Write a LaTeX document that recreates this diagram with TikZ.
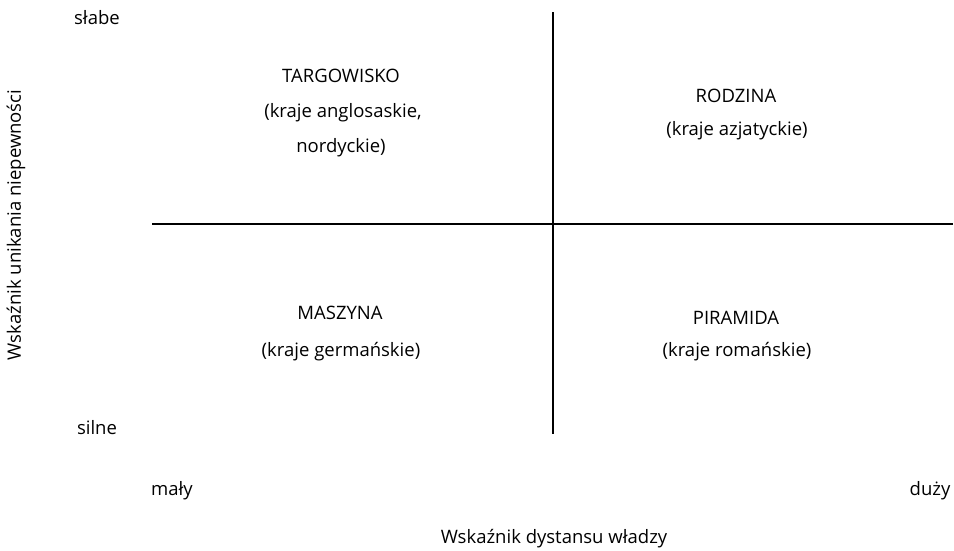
\documentclass[tikz,border=0pt]{standalone}
\usepackage{fontspec}
\setmainfont{Open Sans}
\begin{document}
\begin{tikzpicture}[x=1pt,y=-1pt,
  lbl/.style={font=\fontsize{18.5}{22}\selectfont, inner sep=0pt},
  axisline/.style={line width=1.3pt, black}]
\useasboundingbox (0,0) rectangle (954,550);
\coordinate (vtop) at (553,12);
\coordinate (vbot) at (553,434);
\coordinate (hl) at (152,224);
\coordinate (hr) at (953,224);
\draw[axisline] (vtop) -- (vbot);
\draw[axisline] (hl) -- (hr);
\node[lbl] (slabe) at (97,18) {słabe};
\node[lbl] (silne) at (97,428) {silne};
\node[lbl] (maly) at (172,491) {mały};
\node[lbl] (duzy) at (930,491) {duży};
\node[lbl] (xlab) at (554,539) {Wskaźnik dystansu władzy};
\node[lbl, rotate=90] (ylab) at (16,225) {Wskaźnik unikania niepewności};
\node[lbl] (t1) at (341,76) {TARGOWISKO};
\node[lbl] (t2) at (343,113) {(kraje anglosaskie,};
\node[lbl] (t3) at (341,148) {nordyckie)};
\node[lbl] (r1) at (736,96) {RODZINA};
\node[lbl] (r2) at (737,131) {(kraje azjatyckie)};
\node[lbl] (m1) at (340,313) {MASZYNA};
\node[lbl] (m2) at (341,352) {(kraje germańskie)};
\node[lbl] (p1) at (736,318) {PIRAMIDA};
\node[lbl] (p2) at (737,352) {(kraje romańskie)};
\end{tikzpicture}
\end{document}
